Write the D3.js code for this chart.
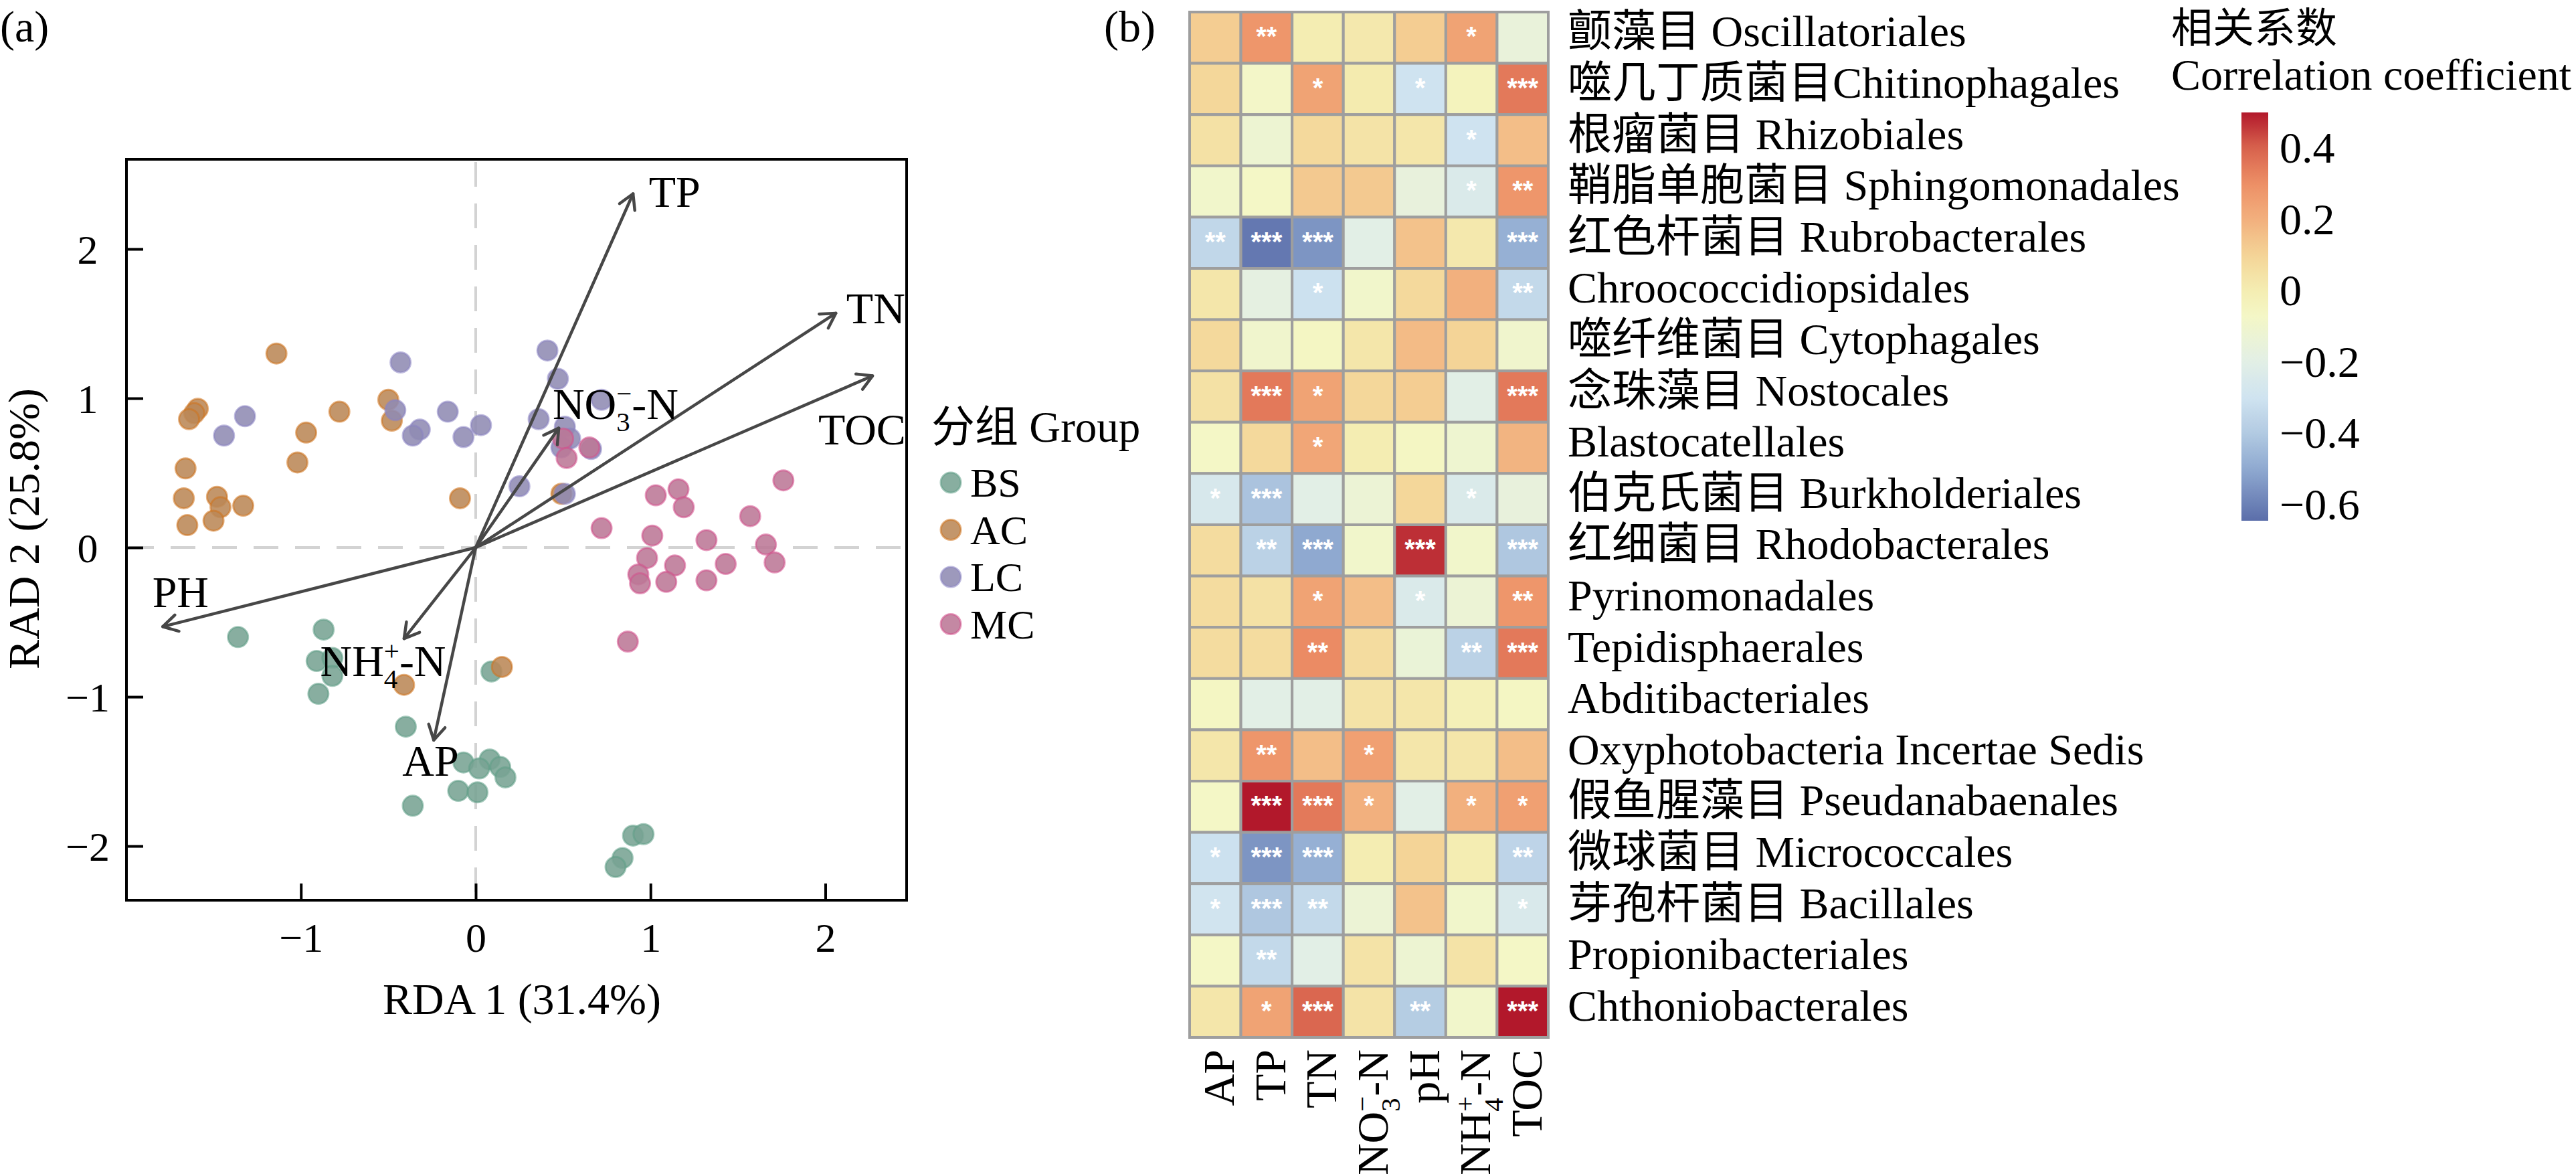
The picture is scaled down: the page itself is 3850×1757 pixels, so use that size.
<!DOCTYPE html>
<html><head><meta charset="utf-8">
<script src="https://cdn.jsdelivr.net/npm/d3@7"></script>
<style>body{margin:0;background:#fff}</style>
</head><body>
<svg id="chart" width="3850" height="1757" xmlns="http://www.w3.org/2000/svg"></svg>
<script>
// ---------------- DATA ----------------
// Panel (a) RDA sample scores
const groups = ["BS", "AC", "LC", "MC"];
const bsX = [-1.36,-0.87,-0.91,-0.82,-0.82,-0.90,0.09,-0.40,-0.07,0.08,0.02,0.14,0.17,-0.10,0.01,-0.36,0.90,0.96,0.84,0.80];
const bsY = [-0.60,-0.55,-0.76,-0.74,-0.86,-0.98,-0.83,-1.20,-1.44,-1.42,-1.48,-1.47,-1.54,-1.63,-1.64,-1.73,-1.93,-1.92,-2.08,-2.14];
const acX = [-1.14,-1.59,-1.61,-1.64,-0.78,-0.97,-1.02,-0.50,-0.48,-1.66,-1.67,-1.48,-1.46,-1.33,-1.65,-1.50,-0.09,0.49,0.15,-0.41];
const acY = [1.30,0.93,0.90,0.86,0.91,0.77,0.57,0.99,0.85,0.53,0.33,0.34,0.27,0.28,0.15,0.18,0.33,0.36,-0.80,-0.92];
const lcX = [-0.43,-1.32,-1.44,-0.46,-0.32,-0.36,-0.16,-0.07,0.03,0.41,0.47,0.72,0.36,0.51,0.54,0.49,0.66,0.25,0.51];
const lcY = [1.24,0.88,0.75,0.92,0.79,0.75,0.91,0.74,0.82,1.32,1.13,0.99,0.86,0.81,0.73,0.67,0.66,0.41,0.36];
const mcX = [0.50,0.52,0.65,1.76,1.03,1.16,1.19,1.57,0.72,1.01,1.32,1.66,0.98,1.14,1.43,1.71,0.93,0.94,1.09,1.32,0.87];
const mcY = [0.73,0.60,0.67,0.45,0.35,0.39,0.27,0.21,0.13,0.08,0.05,0.02,-0.07,-0.12,-0.11,-0.10,-0.18,-0.24,-0.23,-0.22,-0.63];

// Environmental vectors (biplot arrows)
const envNames = ["TP","TN","TOC","NO3","PH","NH4","AP"];
const envX = [0.90, 2.06, 2.27, 0.475, -1.79, -0.41, -0.24];
const envY = [2.37, 1.57, 1.15, 0.80, -0.53, -0.61, -1.29];
const envLabelX = [0.99, 2.12, 1.96, 0.44, -1.85, -0.89, -0.42];
const envLabelY = [2.38, 1.60, 0.79, 0.96, -0.30, -0.76, -1.43];

const xTicks = [-1, 0, 1, 2];
const yTicks = [-2, -1, 0, 1, 2];

// Panel (b) correlation heatmap
const orders = [
 "颤藻目 Oscillatoriales","噬几丁质菌目Chitinophagales","根瘤菌目 Rhizobiales","鞘脂单胞菌目 Sphingomonadales",
 "红色杆菌目 Rubrobacterales","Chroococcidiopsidales","噬纤维菌目 Cytophagales","念珠藻目 Nostocales",
 "Blastocatellales","伯克氏菌目 Burkholderiales","红细菌目 Rhodobacterales","Pyrinomonadales",
 "Tepidisphaerales","Abditibacteriales","Oxyphotobacteria Incertae Sedis","假鱼腥藻目 Pseudanabaenales",
 "微球菌目 Micrococcales","芽孢杆菌目 Bacillales","Propionibacteriales","Chthoniobacterales"];
const factors = ["AP","TP","TN","NO3","pH","NH4","TOC"];
const corr = [
 [ 0.12, 0.28, 0.00, 0.02, 0.12, 0.24,-0.15],
 [ 0.09,-0.08, 0.24, 0.01,-0.30,-0.04, 0.35],
 [ 0.05,-0.12, 0.08, 0.04, 0.03,-0.30, 0.16],
 [-0.09,-0.07, 0.13, 0.13,-0.16,-0.24, 0.28],
 [-0.35,-0.62,-0.55,-0.20, 0.15, 0.02,-0.48],
 [ 0.03,-0.18,-0.31,-0.09, 0.08, 0.20,-0.34],
 [ 0.08,-0.10,-0.06, 0.03, 0.17, 0.10,-0.10],
 [ 0.05, 0.35, 0.24, 0.09, 0.12,-0.20, 0.35],
 [-0.07, 0.08, 0.23, 0.00,-0.06,-0.11, 0.19],
 [-0.26,-0.42,-0.20,-0.13, 0.09,-0.24,-0.16],
 [ 0.07,-0.37,-0.50,-0.09, 0.47,-0.09,-0.41],
 [ 0.07, 0.05, 0.24, 0.16,-0.24,-0.13, 0.28],
 [ 0.07, 0.07, 0.31, 0.07,-0.14,-0.37, 0.35],
 [-0.06,-0.20,-0.20, 0.04, 0.03,-0.02,-0.06],
 [ 0.03, 0.28, 0.16, 0.25, 0.03, 0.03, 0.16],
 [-0.07, 0.50, 0.35, 0.20,-0.20, 0.20, 0.25],
 [-0.31,-0.55,-0.48, 0.00, 0.10, 0.00,-0.36],
 [-0.29,-0.41,-0.34,-0.13, 0.15,-0.09,-0.25],
 [-0.07,-0.34,-0.20, 0.04,-0.12, 0.04,-0.07],
 [ 0.03, 0.24, 0.39, 0.04,-0.39,-0.09, 0.50]];
const sig = [
 ["","**","","","","*",""],
 ["","","*","","*","","***"],
 ["","","","","","*",""],
 ["","","","","","*","**"],
 ["**","***","***","","","","***"],
 ["","","*","","","","**"],
 ["","","","","","",""],
 ["","***","*","","","","***"],
 ["","","*","","","",""],
 ["*","***","","","","*",""],
 ["","**","***","","***","","***"],
 ["","","*","","*","","**"],
 ["","","**","","","**","***"],
 ["","","","","","",""],
 ["","**","","*","","",""],
 ["","***","***","*","","*","*"],
 ["*","***","***","","","","**"],
 ["*","***","**","","","","*"],
 ["","**","","","","",""],
 ["","*","***","","**","","***"]];
const cbTicks = [0.4, 0.2, 0, -0.2, -0.4, -0.6];
const cbDomain = [-0.645, 0.5];

// ---------------- STYLE ----------------
const FONT = "'Liberation Serif','Times New Roman','Noto Sans CJK SC',serif";
const groupFill = {BS:"#77a393", AC:"#bb8857", LC:"#8f8bb3", MC:"#bc7796"};
const groupStroke = {BS:"#5e9e86", AC:"#d0731c", LC:"#8a83c2", MC:"#d4508c"};

const svg = d3.select("#chart").style("font-family", FONT);
svg.append("rect").attr("width",3850).attr("height",1757).attr("fill","#fff");

// rich text helper (subscript/superscript stacked)
function rich(g, x, y, parts, F, anchor, transform) {
  const t = g.append("text").attr("x", x).attr("y", y).attr("font-size", F)
    .attr("text-anchor", anchor || "start").attr("fill", "#000");
  if (transform) t.attr("transform", transform);
  let shift = 0, lastSub = null;
  parts.forEach(p => {
    const ts = t.append("tspan").text(p.t);
    let target = 0, fs = F;
    if (p.sub) { target = 0.28 * F; fs = 0.62 * F; }
    if (p.sup) { target = -0.36 * F; fs = 0.62 * F; }
    ts.attr("font-size", fs).attr("dy", target - shift);
    if (p.sup && lastSub) ts.attr("dx", -lastSub.node().getComputedTextLength());
    shift = target;
    lastSub = p.sub ? ts : null;
  });
  return t;
}
const richParts = {
  TP:[{t:"TP"}], TN:[{t:"TN"}], TOC:[{t:"TOC"}], AP:[{t:"AP"}], PH:[{t:"PH"}], pH:[{t:"pH"}],
  NO3:[{t:"NO"},{t:"3",sub:true},{t:"−",sup:true},{t:"-N"}],
  NH4:[{t:"NH"},{t:"4",sub:true},{t:"+",sup:true},{t:"-N"}]
};

// ---------------- PANEL (a) ----------------
const L = 189, R = 1355, T = 238, B = 1345;
const x = d3.scaleLinear().domain([-1.998, 2.465]).range([L, R]);
const y = d3.scaleLinear().domain([-2.363, 2.601]).range([B, T]);
const ga = svg.append("g");

svg.append("text").attr("x", 0).attr("y", 62).attr("font-size", 66).text("(a)");

// dashed zero lines
ga.append("line").attr("x1", x(0)).attr("x2", x(0)).attr("y1", T + 4).attr("y2", B - 4)
  .attr("stroke", "#d3d3d3").attr("stroke-width", 4).attr("stroke-dasharray", "37,25");
ga.append("line").attr("x1", L + 4).attr("x2", R - 4).attr("y1", y(0)).attr("y2", y(0))
  .attr("stroke", "#d3d3d3").attr("stroke-width", 4).attr("stroke-dasharray", "37,25");

// points
const pts = [];
[[bsX,bsY,"BS"],[acX,acY,"AC"],[lcX,lcY,"LC"],[mcX,mcY,"MC"]].forEach(([xs,ys,gname]) => {
  xs.forEach((v,i) => pts.push({x:v, y:ys[i], g:gname}));
});
ga.append("g").selectAll("circle").data(pts).join("circle")
  .attr("cx", d => x(d.x)).attr("cy", d => y(d.y)).attr("r", 15)
  .attr("fill", d => groupFill[d.g]).attr("fill-opacity", 0.88)
  .attr("stroke", d => groupStroke[d.g]).attr("stroke-opacity", 0.55).attr("stroke-width", 3);

// arrows
const arrowG = ga.append("g").attr("stroke", "#474747").attr("stroke-width", 4.5).attr("fill", "none")
  .attr("stroke-linecap", "round").attr("stroke-linejoin", "round");
envNames.forEach((n, i) => {
  const x0 = x(0), y0 = y(0), x1 = x(envX[i]), y1 = y(envY[i]);
  arrowG.append("line").attr("x1", x0).attr("y1", y0).attr("x2", x1).attr("y2", y1);
  const ang = Math.atan2(y1 - y0, x1 - x0), len = 25, a = Math.PI / 6;
  const p = d3.path();
  p.moveTo(x1 - len * Math.cos(ang - a), y1 - len * Math.sin(ang - a));
  p.lineTo(x1, y1);
  p.lineTo(x1 - len * Math.cos(ang + a), y1 - len * Math.sin(ang + a));
  arrowG.append("path").attr("d", p.toString());
  rich(ga, x(envLabelX[i]), y(envLabelY[i]) + 22, richParts[n], 66, "start");
});

// frame
ga.append("rect").attr("x", L).attr("y", T).attr("width", R - L).attr("height", B - T)
  .attr("fill", "none").attr("stroke", "#000").attr("stroke-width", 4);

// axes (inward ticks)
const xAxis = ga.append("g").attr("transform", `translate(0,${B})`)
  .call(d3.axisBottom(x).tickValues(xTicks).tickSizeInner(-25).tickSizeOuter(0)
    .tickFormat(d => d < 0 ? "−" + Math.abs(d) : d));
xAxis.select(".domain").remove();
xAxis.selectAll("line").attr("stroke", "#000").attr("stroke-width", 4);
xAxis.selectAll("text").attr("y", 77).attr("dy", 0).attr("font-size", 62)
  .attr("font-family", FONT).attr("fill", "#000");
const yAxis = ga.append("g").attr("transform", `translate(${L},0)`)
  .call(d3.axisLeft(y).tickValues(yTicks).tickSizeInner(-25).tickSizeOuter(0)
    .tickFormat(d => d < 0 ? "−" + Math.abs(d) : d));
yAxis.select(".domain").remove();
yAxis.selectAll("line").attr("stroke", "#000").attr("stroke-width", 4);
yAxis.selectAll("text").attr("x", -58).attr("dy", 21).attr("text-anchor", "middle")
  .attr("font-size", 62).attr("font-family", FONT).attr("fill", "#000");

ga.append("text").attr("x", (L + R) / 2 + 8).attr("y", 1515).attr("text-anchor", "middle")
  .attr("font-size", 66).text("RDA 1 (31.4%)");
ga.append("text").attr("transform", "translate(58,790) rotate(-90)").attr("text-anchor", "middle")
  .attr("font-size", 66).text("RAD 2 (25.8%)");

// legend
const lg = svg.append("g");
lg.append("text").attr("x", 1392).attr("y", 660).attr("font-size", 65).text("分组 Group");
groups.forEach((gname, i) => {
  const cy = 721 + i * 70.5;
  lg.append("circle").attr("cx", 1421).attr("cy", cy).attr("r", 15)
    .attr("fill", groupFill[gname]).attr("fill-opacity", 0.88)
    .attr("stroke", groupStroke[gname]).attr("stroke-opacity", 0.55).attr("stroke-width", 3);
  lg.append("text").attr("x", 1450).attr("y", cy + 21).attr("font-size", 62).text(gname);
});

// ---------------- PANEL (b) ----------------
svg.append("text").attr("x", 1650).attr("y", 62).attr("font-size", 66).text("(b)");
const hx = d3.scaleBand().domain(factors).range([1778, 2314]);
const hy = d3.scaleBand().domain(orders).range([18, 1550]);
const color = d3.scaleLinear()
  .domain([-0.645, -0.5, -0.4, -0.3, -0.2, -0.07, 0.0, 0.1, 0.2, 0.3, 0.4, 0.5])
  .range(["#5b6eaa","#8fa9d0","#b2cae2","#cfe3f0","#e2efe6","#f4f7c6","#f4edb2","#f4d497","#f2b07e","#ed8f66","#d8634e","#b2182b"])
  .interpolate(d3.interpolateRgb).clamp(true);

const cells = [];
orders.forEach((o, i) => factors.forEach((f, j) => cells.push({o, f, v: corr[i][j], s: sig[i][j]})));
const hg = svg.append("g");
hg.selectAll("rect.cell").data(cells).join("rect").attr("class", "cell")
  .attr("x", d => hx(d.f)).attr("y", d => hy(d.o))
  .attr("width", hx.bandwidth()).attr("height", hy.bandwidth())
  .attr("fill", d => color(d.v)).attr("stroke", "#9e9e9e").attr("stroke-width", 4);
hg.append("rect").attr("x", 1778).attr("y", 18).attr("width", 2314 - 1778).attr("height", 1550 - 18)
  .attr("fill", "none").attr("stroke", "#9e9e9e").attr("stroke-width", 4);
hg.selectAll("text.sig").data(cells.filter(d => d.s)).join("text").attr("class", "sig")
  .attr("x", d => hx(d.f) + hx.bandwidth() / 2).attr("y", d => hy(d.o) + hy.bandwidth() / 2 + 12)
  .attr("text-anchor", "middle").attr("font-size", 40).attr("font-weight", "bold")
  .attr("font-family", "'Liberation Sans',Arial,sans-serif")
  .attr("fill", "#fff").text(d => d.s);

// row labels
hg.selectAll("text.row").data(orders).join("text").attr("class", "row")
  .attr("x", 2343).attr("y", d => hy(d) + hy.bandwidth() / 2 + 13)
  .attr("font-size", 66).text(d => d);

// column labels (rotated)
factors.forEach(f => {
  const cx = hx(f) + hx.bandwidth() / 2 + 28;
  rich(hg, 0, 0, richParts[f], 66, "end", `translate(${cx},1568) rotate(-90)`);
});

// colorbar
const cbY = d3.scaleLinear().domain(cbDomain).range([778, 168]);
const defs = svg.append("defs");
const grad = defs.append("linearGradient").attr("id", "cbgrad")
  .attr("x1", 0).attr("y1", 1).attr("x2", 0).attr("y2", 0);
d3.range(0, 1.0001, 0.02).forEach(t => {
  const v = cbDomain[0] + t * (cbDomain[1] - cbDomain[0]);
  grad.append("stop").attr("offset", t).attr("stop-color", color(v));
});
const cb = svg.append("g");
cb.append("rect").attr("x", 3350).attr("y", 168).attr("width", 40).attr("height", 610)
  .attr("fill", "url(#cbgrad)");
cb.selectAll("text.cbt").data(cbTicks).join("text").attr("class", "cbt")
  .attr("x", 3407).attr("y", d => cbY(d) + 22).attr("font-size", 66)
  .text(d => d < 0 ? "−" + Math.abs(d) : String(d));
cb.append("text").attr("x", 3245).attr("y", 64).attr("font-size", 62).text("相关系数");
cb.append("text").attr("x", 3245).attr("y", 134).attr("font-size", 66).text("Correlation coefficient");
</script>
</body></html>
